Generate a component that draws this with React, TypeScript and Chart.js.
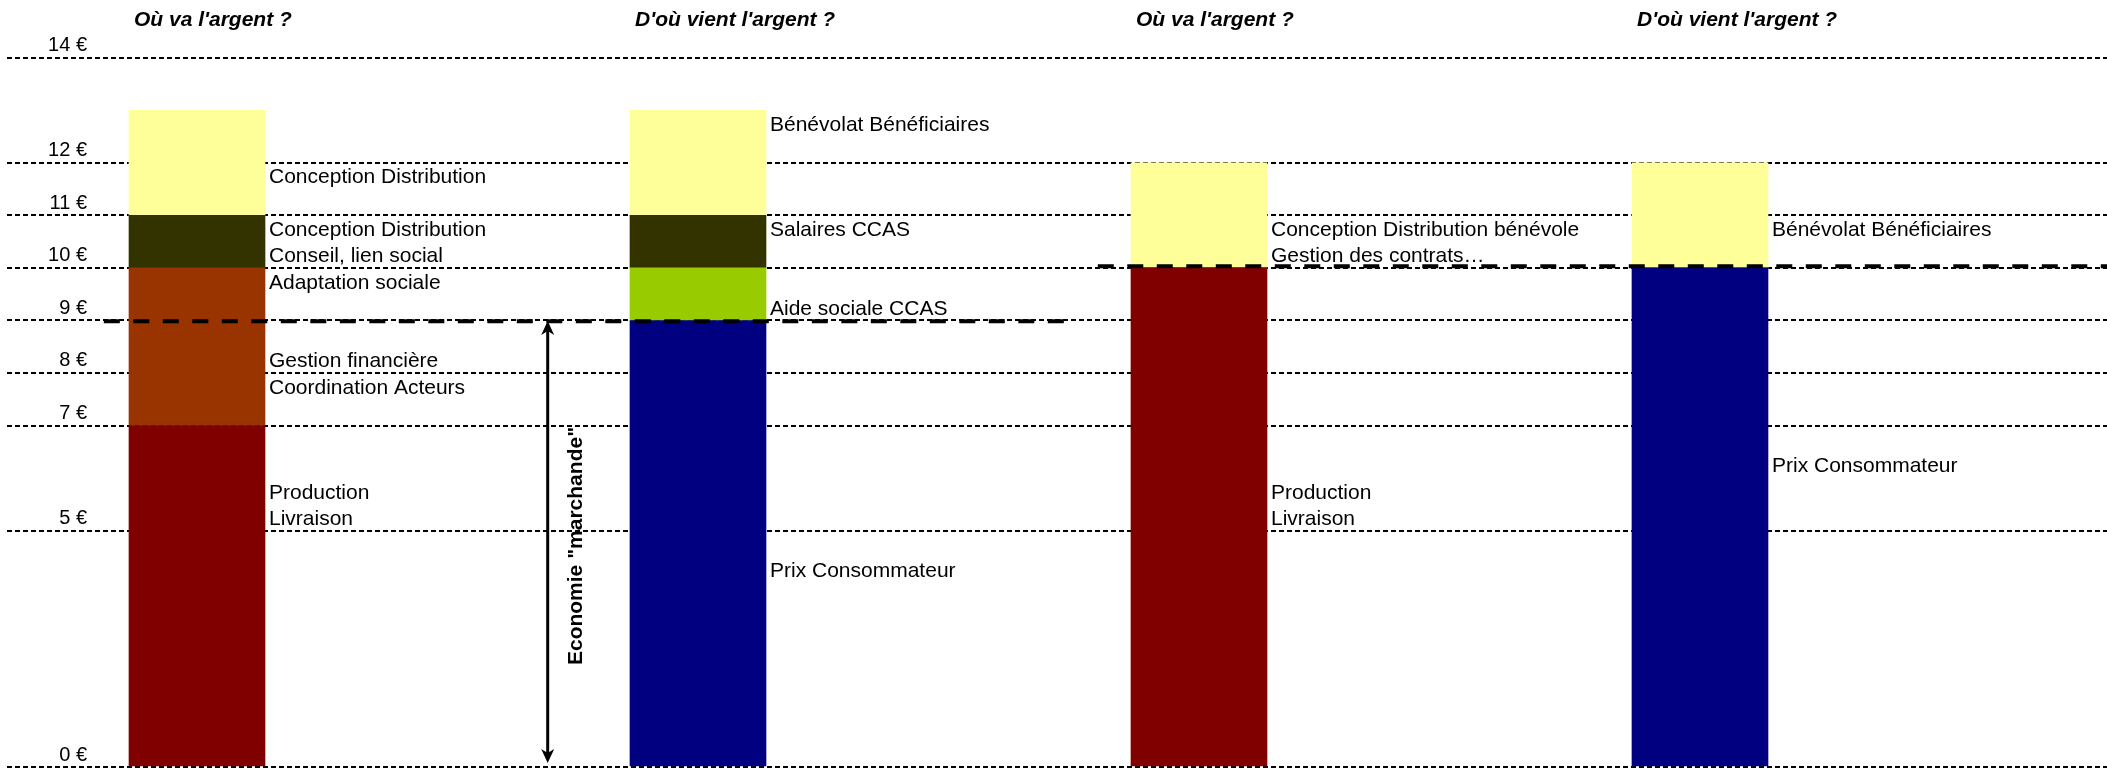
import { useEffect, useRef } from 'react';
import { Chart, registerables } from 'chart.js';

Chart.register(...registerables);

// ---- data ----
const categories = ["Où va l'argent ?", "D'où vient l'argent ?", "Où va l'argent ?", "D'où vient l'argent ?"];
const barPositions = [0, 1, 2, 3];

// stacked layers, bottom to top
const layer1 = [6.5, 8.5, 9.5, 9.5];
const layer2 = [3, 1, 0, 0];
const layer3 = [1, 1, 0, 0];
const layer4 = [2, 2, 2, 2];

const layer1Colors = ['#800000', '#000080', '#800000', '#000080'];
const layer2Colors = ['#993300', '#99CC00', '#993300', '#99CC00'];
const layer3Color = '#333300';
const layer4Color = '#FFFF99';

const gridValues = [0, 4.5, 6.5, 7.5, 8.5, 9.5, 10.5, 11.5, 13.5];
const gridLabels = ['0 €', '5 €', '7 €', '8 €', '9 €', '10 €', '11 €', '12 €', '14 €'];

const bar1Notes = ['Conception Distribution', 'Conception Distribution', 'Conseil, lien social', 'Adaptation sociale', 'Gestion financière', 'Coordination Acteurs', 'Production', 'Livraison'];
const bar1NoteLevels = [11.25, 10.25, 9.75, 9.25, 7.75, 7.25, 5.25, 4.75];
const bar2Notes = ['Bénévolat Bénéficiaires', 'Salaires CCAS', 'Aide sociale CCAS', 'Prix Consommateur'];
const bar2NoteLevels = [12.25, 10.25, 8.75, 3.75];
const bar3Notes = ['Conception Distribution bénévole', 'Gestion des contrats…', 'Production', 'Livraison'];
const bar3NoteLevels = [10.25, 9.75, 5.25, 4.75];
const bar4Notes = ['Bénévolat Bénéficiaires', 'Prix Consommateur'];
const bar4NoteLevels = [10.25, 5.75];

const marketLevel = 8.5; // "Economie marchande" top
const arrowPosition = 0.7;

const FONT = '"Liberation Sans", Arial, Helvetica, sans-serif';

const overlayPlugin = {
  id: 'overlay',
  afterDraw(chart: any) {
    const { ctx, chartArea } = chart;
    const x = chart.scales.x;
    const y = chart.scales.y;
    const meta = chart.getDatasetMeta(0);
    ctx.save();

    // y tick labels
    ctx.fillStyle = '#000';
    ctx.font = `20px ${FONT}`;
    ctx.textAlign = 'right';
    ctx.textBaseline = 'alphabetic';
    gridValues.forEach((v, i) => {
      ctx.fillText(gridLabels[i], chartArea.left + 80, y.getPixelForValue(v) - 6.5);
    });

    // titles
    ctx.font = `italic bold 21px ${FONT}`;
    ctx.textAlign = 'left';
    categories.forEach((c, i) => {
      const el = meta.data[i];
      ctx.fillText(c, el.x - el.width / 2 + 5, 26);
    });

    // notes
    ctx.font = `21px ${FONT}`;
    const notes = [bar1Notes, bar2Notes, bar3Notes, bar4Notes];
    const levels = [bar1NoteLevels, bar2NoteLevels, bar3NoteLevels, bar4NoteLevels];
    notes.forEach((list, i) => {
      const el = meta.data[i];
      const tx = el.x + el.width / 2 + 4;
      list.forEach((t, j) => {
        ctx.fillText(t, tx, y.getPixelForValue(levels[i][j]) + 7.5);
      });
    });

    // thick dashed threshold lines
    ctx.strokeStyle = '#000';
    ctx.lineWidth = 4;
    ctx.setLineDash([16, 13.5]);
    ctx.beginPath();
    const y1 = y.getPixelForValue(8.485);
    ctx.moveTo(x.getPixelForValue(-0.186), y1);
    ctx.lineTo(x.getPixelForValue(1.739), y1);
    ctx.stroke();
    ctx.beginPath();
    const y2 = y.getPixelForValue(9.532);
    ctx.moveTo(x.getPixelForValue(1.798), y2);
    ctx.lineTo(chartArea.right, y2);
    ctx.stroke();
    ctx.setLineDash([]);

    // double arrow
    const ax = x.getPixelForValue(arrowPosition);
    const top = y.getPixelForValue(marketLevel) + 0.5;
    const bot = y.getPixelForValue(0) - 4;
    ctx.lineWidth = 3;
    ctx.beginPath();
    ctx.moveTo(ax, top + 8);
    ctx.lineTo(ax, bot - 8);
    ctx.stroke();
    ctx.fillStyle = '#000';
    ctx.beginPath();
    ctx.moveTo(ax, top);
    ctx.lineTo(ax - 6.5, top + 14);
    ctx.lineTo(ax, top + 10);
    ctx.lineTo(ax + 6.5, top + 14);
    ctx.closePath();
    ctx.fill();
    ctx.beginPath();
    ctx.moveTo(ax, bot);
    ctx.lineTo(ax - 6.5, bot - 14);
    ctx.lineTo(ax, bot - 10);
    ctx.lineTo(ax + 6.5, bot - 14);
    ctx.closePath();
    ctx.fill();

    // rotated label
    ctx.save();
    ctx.translate(ax + 34, (top + bot) / 2 + 4);
    ctx.rotate(-Math.PI / 2);
    ctx.font = `bold 21px ${FONT}`;
    ctx.textAlign = 'center';
    ctx.textBaseline = 'alphabetic';
    ctx.fillText('Economie "marchande"', 0, 0);
    ctx.restore();

    ctx.restore();
  },
};

const toPoints = (vals: number[]) => vals.map((v, i) => ({ x: barPositions[i], y: v }));

export default function App() {
  const ref = useRef<HTMLCanvasElement | null>(null);

  useEffect(() => {
    document.body.style.margin = '0';
    document.body.style.overflow = 'hidden';
    if (!ref.current) return;
    const chart = new Chart(ref.current, {
      type: 'bar',
      data: {
        datasets: [
          { data: toPoints(layer1), backgroundColor: layer1Colors },
          { data: toPoints(layer2), backgroundColor: layer2Colors },
          { data: toPoints(layer3), backgroundColor: layer3Color },
          { data: toPoints(layer4), backgroundColor: layer4Color },
        ] as any,
      },
      options: {
        responsive: false,
        animation: false,
        devicePixelRatio: 1,
        layout: { padding: { left: 7, right: 0, top: 0, bottom: 4 } },
        datasets: { bar: { barThickness: 136, borderWidth: 0 } } as any,
        plugins: { legend: { display: false }, tooltip: { enabled: false } },
        scales: {
          x: {
            type: 'linear',
            display: false,
            stacked: true,
            offset: false,
            min: -0.37924,
            max: 3.8124,
          },
          y: {
            type: 'linear',
            stacked: true,
            min: 0,
            max: 14.6,
            z: 1,
            afterBuildTicks: (scale: any) => {
              scale.ticks = gridValues.map((v) => ({ value: v }));
            },
            afterFit: (scale: any) => {
              scale.width = 0;
            },
            ticks: { display: false },
            border: { display: false, dash: [5, 3] },
            grid: { color: '#000', lineWidth: 2, drawTicks: false },
          },
        } as any,
      },
      plugins: [overlayPlugin],
    });
    return () => chart.destroy();
  }, []);

  return <canvas ref={ref} width={2107} height={771} style={{ display: 'block' }} />;
}
